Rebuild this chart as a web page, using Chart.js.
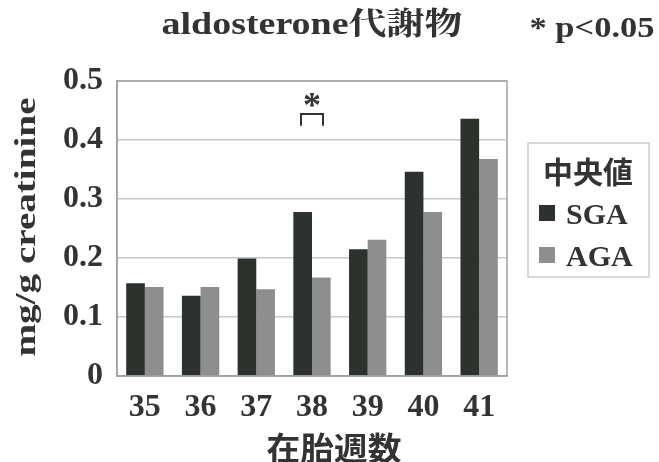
<!DOCTYPE html>
<html><head><meta charset="utf-8">
<script src="https://cdn.jsdelivr.net/npm/chart.js@4/dist/chart.umd.min.js"></script>
<style>html,body{margin:0;padding:0;background:#fff}#wrap{width:659px;height:462px;position:relative}</style>
</head><body><div id="wrap"><canvas id="c" width="659" height="462"></canvas></div>
<script>
const categories = ['35','36','37','38','39','40','41'];
const sgaValues = [0.157,0.136,0.199,0.278,0.215,0.346,0.436];
const agaValues = [0.151,0.151,0.147,0.167,0.231,0.278,0.368];
const yTicks = [0,0.1,0.2,0.3,0.4,0.5];
const seriesNames = ['SGA','AGA'];
const chartTitle = 'aldosterone代謝物';
const sigNote = '* p<0.05';
const yTitle = 'mg/g creatinine';
const xTitle = '在胎週数';
const legendTitle = '中央値';
const sigCategory = '38';

const SERIF = '"Liberation Serif","Noto Serif CJK JP","Noto Sans CJK JP",serif';
const CJK = '"Noto Sans CJK JP",sans-serif';
const colors = ['#2e322e','#8d8e8d'];
const ink = '#333';

function fitText(ctx, text, cx, cy, font, width, rot){
  ctx.save();
  ctx.font = font;
  ctx.textAlign = 'center'; ctx.textBaseline = 'middle';
  const w = ctx.measureText(text).width;
  ctx.translate(cx, cy);
  if (rot) ctx.rotate(rot);
  ctx.scale(width / w, 1);
  ctx.fillText(text, 0, 0);
  ctx.restore();
}

const overlay = {
  id:'overlay',
  afterDraw(chart){
    const ctx = chart.ctx, a = chart.chartArea;
    const xs = chart.scales.x, ys = chart.scales.y;
    ctx.save();
    ctx.strokeStyle = '#a0a0a0'; ctx.lineWidth = 1.5;
    ctx.strokeRect(a.left, a.top, a.right-a.left, a.bottom-a.top);
    ctx.fillStyle = ink;
    fitText(ctx, chartTitle, 312, 26, 'bold 31px ' + SERIF, 301);
    fitText(ctx, sigNote, 592, 29, 'bold 30px ' + SERIF, 125);
    fitText(ctx, yTitle, 27, 227, 'bold 30px ' + SERIF, 259, -Math.PI/2);
    fitText(ctx, xTitle, 334, 448, 'bold 32px ' + CJK, 135);
    // significance bracket
    const idx = categories.indexOf(sigCategory);
    const cx = xs.getPixelForValue(idx);
    const yTop = ys.getPixelForValue(0.444), yBot = ys.getPixelForValue(0.424);
    ctx.strokeStyle = ink; ctx.lineWidth = 2;
    ctx.beginPath();
    ctx.moveTo(cx-11, yBot); ctx.lineTo(cx-11, yTop); ctx.lineTo(cx+11, yTop); ctx.lineTo(cx+11, yBot);
    ctx.stroke();
    ctx.textAlign = 'center'; ctx.textBaseline = 'middle';
    ctx.font = 'bold 36px ' + SERIF;
    ctx.fillText('*', cx, ys.getPixelForValue(0.455));
    // legend
    ctx.strokeStyle = '#cccccc'; ctx.lineWidth = 1.5;
    ctx.strokeRect(528, 143, 121, 134);
    ctx.fillStyle = ink;
    fitText(ctx, legendTitle, 588, 172, 'bold 30px ' + CJK, 90);
    const ly = [214, 256];
    seriesNames.forEach((n,i)=>{
      ctx.fillStyle = colors[i];
      ctx.fillRect(539, ly[i]-9, 16, 16);
      ctx.fillStyle = ink;
      ctx.font = 'bold 30px ' + SERIF;
      ctx.textAlign = 'left'; ctx.textBaseline = 'middle';
      ctx.fillText(n, 566, ly[i]+2);
    });
    ctx.restore();
  }
};

new Chart(document.getElementById('c'), {
  type:'bar',
  data:{
    labels: categories,
    datasets:[
      {label:seriesNames[0], data:sgaValues, backgroundColor:colors[0], categoryPercentage:0.67, barPercentage:1.0},
      {label:seriesNames[1], data:agaValues, backgroundColor:colors[1], categoryPercentage:0.67, barPercentage:1.0}
    ]
  },
  options:{
    responsive:false, animation:false, devicePixelRatio:1,
    layout:{padding:{left:0, right:152, top:81, bottom:0}},
    plugins:{legend:{display:false}, title:{display:false}, tooltip:{enabled:false}},
    scales:{
      x:{
        grid:{display:false, drawTicks:false},
        border:{display:true, color:'#a0a0a0', width:1.5},
        ticks:{color:ink, padding:13, maxRotation:0, font:{family:SERIF, size:32, weight:'bold'}},
        afterFit(s){ s.height = 86; }
      },
      y:{
        min:0, max:0.5,
        afterBuildTicks(s){ s.ticks = yTicks.map(v=>({value:v})); },
        grid:{color:'#c8c8c8', lineWidth:1.5, drawTicks:false},
        border:{display:true, color:'#a0a0a0', width:1.5},
        ticks:{color:ink, padding:14, font:{family:SERIF, size:32, weight:'bold'}, callback:v=>String(v)},
        afterFit(s){ s.width = 117; }
      }
    }
  },
  plugins:[overlay]
});
</script></body></html>
